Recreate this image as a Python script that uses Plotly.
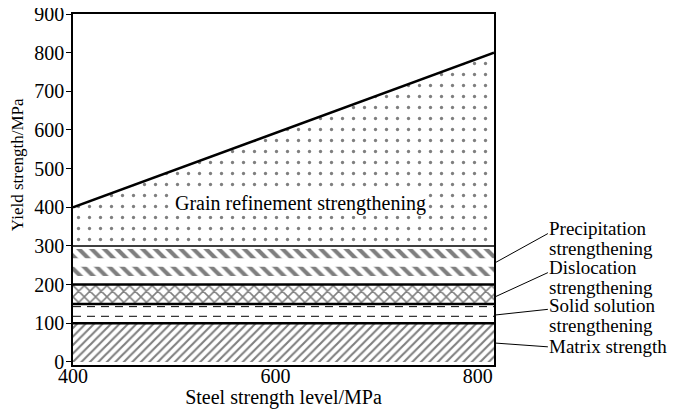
import plotly.graph_objects as go

# ---- data ----
steel_level = [400, 816]            # x extent (MPa)
total_yield = [400, 800]            # top line (MPa)
matrix_top = [100, 100]
solid_solution_top = [150, 150]
dislocation_top = [200, 200]
precipitation_top = [300, 300]
y_ticks = [0, 100, 200, 300, 400, 500, 600, 700, 800, 900]
x_ticks = [400, 600, 800]

# style-only positions
dash_levels = [143, 118]
precip_bands = [(268, 292), (222, 246)]

FONT = "Liberation Serif"
fig = go.Figure()

fig.add_trace(go.Scatter(x=steel_level, y=matrix_top, mode="lines", fill="tozeroy",
                         line=dict(color="black", width=2.5), fillcolor="white",
                         fillpattern=dict(shape="/", size=6, solidity=0.35, fgcolor="black", bgcolor="white")))
fig.add_trace(go.Scatter(x=steel_level, y=solid_solution_top, mode="lines", fill="tonexty",
                         line=dict(color="black", width=2.5), fillcolor="white"))
fig.add_trace(go.Scatter(x=steel_level, y=dislocation_top, mode="lines", fill="tonexty",
                         line=dict(color="black", width=2.5), fillcolor="white",
                         fillpattern=dict(shape="x", size=8, solidity=0.35, fgcolor="black", bgcolor="white")))
fig.add_trace(go.Scatter(x=steel_level, y=precipitation_top, mode="lines", fill="tonexty",
                         line=dict(color="black", width=1.5), fillcolor="white"))
fig.add_trace(go.Scatter(x=steel_level, y=total_yield, mode="lines", fill="tonexty",
                         line=dict(color="black", width=2.5), fillcolor="white",
                         fillpattern=dict(shape=".", size=11, solidity=0.07, fgcolor="black", bgcolor="white")))

for lo, hi in precip_bands:
    fig.add_trace(go.Scatter(x=[steel_level[0], steel_level[1], steel_level[1], steel_level[0]],
                             y=[lo, lo, hi, hi], mode="none", fill="toself", fillcolor="white",
                             fillpattern=dict(shape="\\", size=9, solidity=0.45, fgcolor="black", bgcolor="white")))
for lv in dash_levels:
    fig.add_trace(go.Scatter(x=steel_level, y=[lv, lv], mode="lines",
                             line=dict(color="black", width=1, dash="8px,6px")))

# grain label
fig.add_annotation(x=625, y=409, text="Grain refinement strengthening", showarrow=False,
                   font=dict(family=FONT, size=20, color="black"), bgcolor="white", borderpad=0)

# right-side labels (one annotation per line) with leader lines
label_lines = [("Precipitation", 345), ("strengthening", 293),
               ("Dislocation", 244), ("strengthening", 193),
               ("Solid solution", 147), ("strengthening", 95),
               ("Matrix strength", 39)]
for text, ty in label_lines:
    fig.add_annotation(x=1.129, xref="paper", y=ty, yref="y", text=text, showarrow=False,
                       xanchor="left", align="left", borderpad=0,
                       font=dict(family=FONT, size=19, color="black"))
leaders = [(255, 332), (167, 231), (121, 136), (49, 39)]
for y0, y1 in leaders:
    fig.add_shape(type="line", xref="paper", yref="y", x0=1.0, x1=1.128, y0=y0, y1=y1,
                  line=dict(color="black", width=1))

fig.add_annotation(x=-0.133, xref="paper", y=509, yref="y", text="Yield strength/MPa",
                   xanchor="center", yanchor="middle",
                   showarrow=False, textangle=-90, font=dict(family=FONT, size=17, color="black"))

fig.update_layout(
    width=667, height=401, showlegend=False,
    margin=dict(l=65, r=181, t=6, b=44, autoexpand=False),
    plot_bgcolor="white", paper_bgcolor="white",
    font=dict(family=FONT, size=20, color="black"),
    xaxis=dict(range=[400, 816], tickvals=x_ticks, ticks="", ticklen=0, showgrid=False, zeroline=False,
               automargin=False, tickfont=dict(family=FONT, size=20, color="black"),
               ticklabelstandoff=-8,
               showline=True, linecolor="black", linewidth=1.5, mirror=True,
               title=dict(text="Steel strength level/MPa", standoff=6,
                          font=dict(family=FONT, size=20, color="black"))),
    yaxis=dict(range=[-8, 900], tickvals=y_ticks, ticks="outside", ticklen=5, tickcolor="black",
               automargin=False, tickfont=dict(family=FONT, size=20, color="black"),
               ticklabeloverflow="allow", ticklabelstandoff=-2,
               showgrid=False, zeroline=False, showline=True, linecolor="black", linewidth=1.5,
               mirror=True),
)
fig.write_html("out.html")
